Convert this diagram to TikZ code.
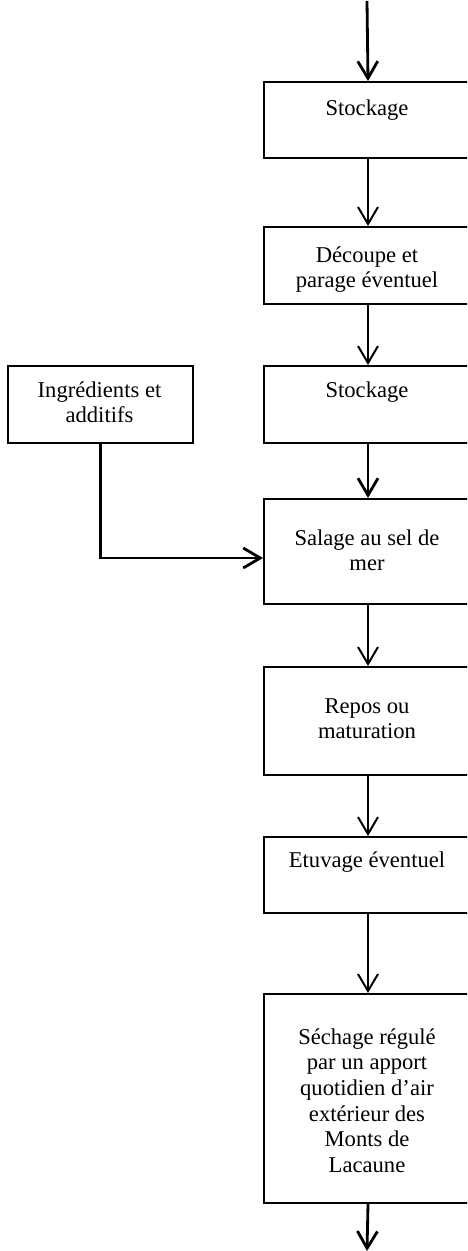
\documentclass[tikz,border=0pt]{standalone}
\usepackage{fontspec}
\setmainfont{Liberation Serif}
\usetikzlibrary{arrows.meta}
\begin{document}
\begin{tikzpicture}[x=0.5pt,y=-0.5pt,
  box/.style={draw, line width=1pt, inner sep=0pt, anchor=north west, minimum width=104pt},
  txt/.style={font=\fontsize{11.3}{12.8}\selectfont, align=center, inner sep=0pt, anchor=north},
  arr/.style={line width=1pt, -{Straight Barb[length=8.5pt,width=10pt]}},
  arrthick/.style={arr, line width=1.4pt}]
\useasboundingbox (0,0) rectangle (467,1251);
\clip (0,0) rectangle (467,1251);
% boxes
\node[box, minimum height=38pt]   (b1) at (263,81)  {};
\node[box, minimum height=38.5pt] (b2) at (263,226) {};
\node[box, minimum height=38.5pt] (b3) at (263,365) {};
\node[box, minimum height=52.5pt] (b4) at (263,498) {};
\node[box, minimum height=54pt]   (b5) at (263,666) {};
\node[box, minimum height=38pt]   (b6) at (263,836) {};
\node[box, minimum height=104.5pt](b7) at (263,993) {};
\node[box, minimum width=92.5pt, minimum height=38.5pt] (side) at (7,365) {};
% texts
\node[txt] (t1) at (367,97)  {\strut Stockage};
\node[txt] (t2) at (367,244) {\strut Découpe et\\parage éventuel};
\node[txt] (t3) at (367,379) {\strut Stockage};
\node[txt] (t4) at (367,527) {\strut Salage au sel de\\mer};
\node[txt] (t5) at (367,695) {\strut Repos ou\\maturation};
\node[txt] (t6) at (367,849) {\strut Etuvage éventuel};
\node[txt] (t7) at (367,1026) {\strut Séchage régulé\\par un apport\\quotidien d’air\\extérieur des\\Monts de\\Lacaune};
\node[txt] (ts) at (99.5,379) {\strut Ingrédients et\\additifs};
% connectors
\coordinate (start) at (367,1);
\coordinate (end) at (367,1251);
\draw[arrthick] (start) -- (b1.north);
\draw[arr] (b1.south) -- (b2.north);
\draw[arr] (b2.south) -- (b3.north);
\draw[arrthick] (b3.south) -- (b4.north);
\draw[arr] (b4.south) -- (b5.north);
\draw[arr] (b5.south) -- (b6.north);
\draw[arr] (b6.south) -- (b7.north);
\draw[arrthick] (b7.south) -- (end);
\draw[arrthick] (side.south) |- ([yshift=-3.25pt]b4.west);
\end{tikzpicture}
\end{document}
